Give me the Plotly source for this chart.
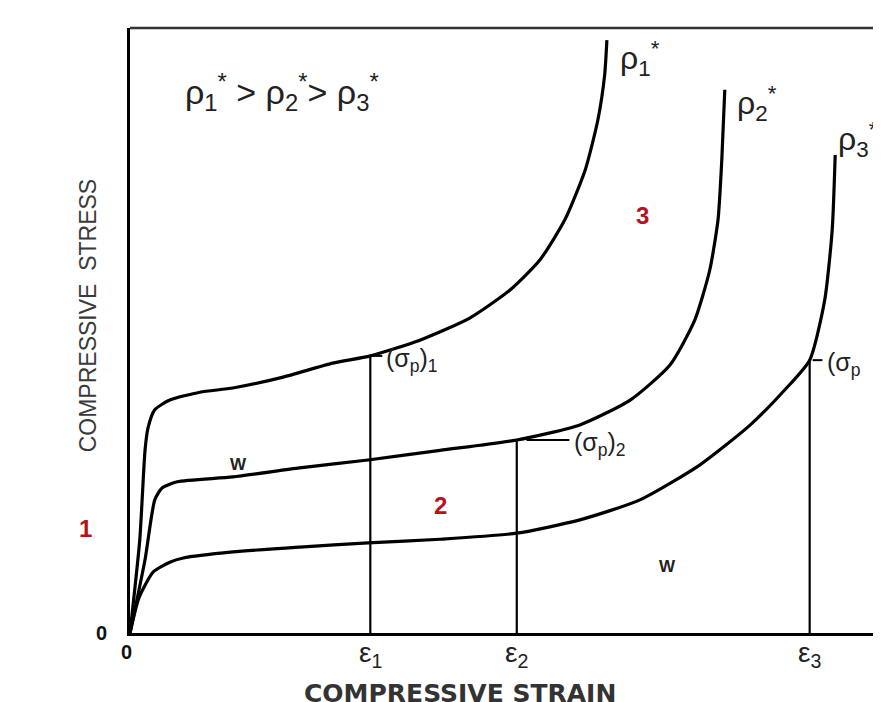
import plotly.graph_objects as go

# Curve data (normalized strain, normalized stress)
strain_1 = [0, 0.013, 0.020, 0.024, 0.033, 0.053, 0.093, 0.137, 0.204, 0.270, 0.320, 0.386, 0.453, 0.506, 0.546, 0.579, 0.606, 0.623, 0.632, 0.635]
stress_1 = [0, 0.154, 0.302, 0.339, 0.369, 0.385, 0.398, 0.405, 0.423, 0.446, 0.458, 0.484, 0.521, 0.567, 0.617, 0.683, 0.765, 0.848, 0.922, 0.980]

strain_2 = [0, 0.020, 0.033, 0.043, 0.063, 0.137, 0.226, 0.317, 0.413, 0.515, 0.599, 0.666, 0.719, 0.752, 0.772, 0.783, 0.788, 0.792]
stress_2 = [0, 0.121, 0.220, 0.240, 0.250, 0.258, 0.273, 0.286, 0.302, 0.319, 0.344, 0.385, 0.443, 0.517, 0.600, 0.683, 0.782, 0.898]

strain_3 = [0, 0.011, 0.020, 0.031, 0.053, 0.071, 0.137, 0.226, 0.317, 0.413, 0.515, 0.599, 0.679, 0.759, 0.826, 0.872, 0.905, 0.925, 0.935, 0.939]
stress_3 = [0, 0.055, 0.079, 0.101, 0.117, 0.124, 0.134, 0.142, 0.149, 0.155, 0.165, 0.187, 0.220, 0.278, 0.344, 0.402, 0.451, 0.550, 0.666, 0.790]

# densification strains and plateau stresses
eps_vals = [0.320, 0.515, 0.905]
sigma_p = [0.458, 0.319, 0.451]
eps_labels = ["ε<sub>1</sub>", "ε<sub>2</sub>", "ε<sub>3</sub>"]
sigma_labels = ["(σ<sub>p</sub>)<sub>1</sub>", "(σ<sub>p</sub>)<sub>2</sub>", "(σ<sub>p</sub>"]

FONT = "Liberation Sans Narrow, Liberation Sans, Arial, sans-serif"

fig = go.Figure()
for sx, sy in [(strain_1, stress_1), (strain_2, stress_2), (strain_3, stress_3)]:
    fig.add_trace(go.Scatter(x=sx, y=sy, mode="lines", line=dict(color="black", width=3.2, shape="spline", smoothing=0.6),
                             showlegend=False, hoverinfo="skip"))

# vertical lines at densification strain
for e, s in zip(eps_vals, sigma_p):
    fig.add_trace(go.Scatter(x=[e, e], y=[0, s], mode="lines", line=dict(color="black", width=2.2),
                             showlegend=False, hoverinfo="skip"))

# small leader dashes
dash_offsets = [(0.003, 0.016), (0.013, 0.070), (0.004, 0.017)]
for (e, s), (a, b) in zip(zip(eps_vals, sigma_p), dash_offsets):
    fig.add_shape(type="line", x0=e + a, x1=e + b, y0=s, y1=s, line=dict(color="black", width=2))

P = dict(xref="paper", yref="paper", showarrow=False)
ann = []
# sigma_p labels
sig_x = [0.338, 0.589, 0.925]
for x, s, t in zip(sig_x, sigma_p, sigma_labels):
    ann.append(dict(x=x, y=s, text=t, xanchor="left", yanchor="middle", yshift=-4, **P,
                    font=dict(size=25, color="#222", family=FONT)))
# epsilon tick labels
for e, t in zip(eps_vals, eps_labels):
    ann.append(dict(x=e, y=-0.004, text=t, xanchor="center", yanchor="top", **P,
                    font=dict(size=28, color="#222", family=FONT)))
# zeros
ann.append(dict(x=-0.004, y=-0.01, text="0", xanchor="center", yanchor="top", **P,
                font=dict(size=20, color="#111", family="Liberation Sans, Arial", weight="bold")))
ann.append(dict(x=-0.028, y=0.0, text="0", xanchor="right", yanchor="middle", **P,
                font=dict(size=20, color="#111", family="Liberation Sans, Arial", weight="bold")))
# rho labels
ann.append(dict(x=0.203, y=0.895, text="ρ<sub>1</sub><sup>*</sup> > ρ<sub>2</sub><sup>*</sup>> ρ<sub>3</sub><sup>*</sup>",
                xanchor="center", yanchor="middle", **P,
                font=dict(size=34, color="#222", family=FONT)))
rho_pos = [(0.650, 0.950), (0.805, 0.875), (0.940, 0.815)]
for i, (x, y) in enumerate(rho_pos):
    ann.append(dict(x=x, y=y, text=f"ρ<sub>{i+1}</sub><sup>*</sup>", xanchor="left", yanchor="middle", **P,
                    font=dict(size=32, color="#222", family=FONT)))
# W labels
for x, y in [(0.144, 0.278), (0.716, 0.110)]:
    ann.append(dict(x=x, y=y, text="W", xanchor="center", yanchor="middle", **P,
                    font=dict(size=17, color="#222", family="Liberation Sans, Arial", weight="bold")))
# red region numbers
for x, y, t in [(0.683, 0.690, "3"), (0.414, 0.211, "2"), (-0.059, 0.172, "1")]:
    ann.append(dict(x=x, y=y, text=t, xanchor="center", yanchor="middle", **P,
                    font=dict(size=24, color="#b5121b", family="Liberation Sans, Arial", weight="bold")))
# axis titles
ann.append(dict(x=-0.056, y=0.525, text="COMPRESSIVE  STRESS", textangle=-90, xanchor="center", yanchor="middle",
                **P, font=dict(size=23, color="#3a3a3a", family=FONT)))
ann.append(dict(x=0.44, y=-0.1, text="COMPRESSIVE STRAIN", xanchor="center", yanchor="middle",
                **P, font=dict(size=25, color="#333", family="DejaVu Sans, Verdana", weight="bold")))

fig.update_layout(
    width=873, height=694,
    margin=dict(l=122, r=0, t=20, b=69),
    paper_bgcolor="white", plot_bgcolor="white",
    annotations=ann,
    xaxis=dict(range=[0, 1], showgrid=False, zeroline=False, showticklabels=False, ticks="",
               showline=True, linecolor="black", linewidth=3),
    yaxis=dict(range=[0, 1], showgrid=False, zeroline=False, showticklabels=False, ticks="",
               showline=True, linecolor="black", linewidth=3),
)
fig.add_shape(type="line", xref="paper", yref="paper", x0=0, x1=1, y0=1, y1=1, line=dict(color="#333", width=2.5))

fig.write_html("out.html")
